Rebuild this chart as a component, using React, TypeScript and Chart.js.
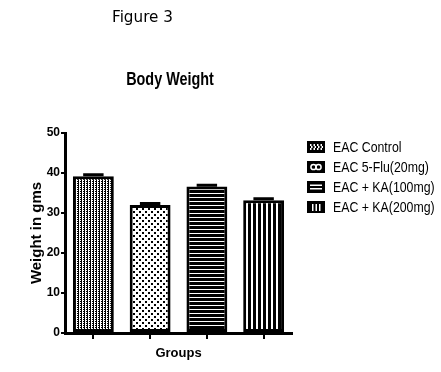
import React, { useEffect, useRef } from "react";
import { Chart, registerables } from "chart.js";

Chart.register(...registerables);

const groups = ["EAC Control", "EAC 5-Flu(20mg)", "EAC + KA(100mg)", "EAC + KA(200mg)"];
const weights = [39.2, 32.0, 36.6, 33.2];
const sem = [0.35, 0.35, 0.35, 0.35];
const yTicks = [0, 10, 20, 30, 40, 50];
const figureLabel = "Figure 3";
const chartTitle = "Body Weight";
const yTitle = "Weight in gms";
const xTitle = "Groups";

function makePattern(kind: number): CanvasPattern | string {
  const c = document.createElement("canvas");
  const ctx = c.getContext("2d")!;
  if (kind === 0) {
    c.width = 3; c.height = 2;
    ctx.fillStyle = "#000"; ctx.fillRect(0, 0, 3, 2);
    ctx.fillStyle = "#fff";
    ctx.fillRect(1, 0, 1, 2);
    ctx.fillRect(2, 0, 1, 1);
  } else if (kind === 1) {
    c.width = 6; c.height = 6;
    ctx.fillStyle = "#fff"; ctx.fillRect(0, 0, 6, 6);
    ctx.fillStyle = "#000";
    ctx.fillRect(1, 1, 2, 2);
    ctx.fillRect(4, 4, 2, 2);
  } else if (kind === 2) {
    c.width = 4; c.height = 4;
    ctx.fillStyle = "#000"; ctx.fillRect(0, 0, 4, 4);
    ctx.fillStyle = "#fff"; ctx.fillRect(0, 1, 4, 1);
  } else {
    c.width = 5; c.height = 4;
    ctx.fillStyle = "#000"; ctx.fillRect(0, 0, 5, 4);
    ctx.fillStyle = "#fff"; ctx.fillRect(1, 0, 2, 4);
  }
  const ctx2 = document.createElement("canvas").getContext("2d")!;
  return ctx2.createPattern(c, "repeat") || "#000";
}

function drawLegendIcon(ctx: CanvasRenderingContext2D, kind: number, x: number, y: number) {
  const w = 18, h = 12;
  ctx.fillStyle = "#000";
  ctx.fillRect(x, y - h / 2, w, h);
  ctx.fillStyle = "#fff";
  ctx.strokeStyle = "#fff";
  if (kind === 0) {
    for (let i = 0; i < 4; i++) {
      const px = x + 3 + i * 3.5;
      ctx.fillRect(px, y - 3, 1.5, 2);
      ctx.fillRect(px + 1, y - 1, 1.5, 2);
      ctx.fillRect(px, y + 1, 1.5, 2);
    }
  } else if (kind === 1) {
    ctx.lineWidth = 1.5;
    ctx.beginPath(); ctx.arc(x + 6.5, y, 2.6, 0, Math.PI * 2); ctx.stroke();
    ctx.beginPath(); ctx.arc(x + 11.5, y, 2.6, 0, Math.PI * 2); ctx.stroke();
  } else if (kind === 2) {
    ctx.fillRect(x + 3, y - 2.5, 12, 1.5);
    ctx.fillRect(x + 3, y + 1, 12, 1.5);
  } else {
    ctx.fillRect(x + 5, y - 3, 1.5, 7);
    ctx.fillRect(x + 8.5, y - 3, 1.5, 7);
    ctx.fillRect(x + 12, y - 3, 1.5, 7);
  }
}

function narrowText(ctx: CanvasRenderingContext2D, text: string, x: number, y: number, sx: number, align: "left" | "center") {
  ctx.save();
  ctx.translate(x, y);
  ctx.scale(sx, 1);
  ctx.textAlign = align;
  ctx.fillText(text, 0, 0);
  ctx.restore();
}

const extrasPlugin = {
  id: "extras",
  afterDatasetsDraw(chart: any) {
    const ctx = chart.ctx as CanvasRenderingContext2D;
    const meta = chart.getDatasetMeta(0);
    const yScale = chart.scales.y;
    ctx.save();
    ctx.strokeStyle = "#000";
    ctx.lineWidth = 3;
    meta.data.forEach((bar: any, i: number) => {
      const top = yScale.getPixelForValue(weights[i] + sem[i]);
      const base = yScale.getPixelForValue(weights[i]);
      const half = bar.width * 0.25;
      ctx.beginPath();
      ctx.moveTo(bar.x, base);
      ctx.lineTo(bar.x, top);
      ctx.moveTo(bar.x - half, top);
      ctx.lineTo(bar.x + half, top);
      ctx.stroke();
    });
    ctx.restore();
  },
  afterDraw(chart: any) {
    const ctx = chart.ctx as CanvasRenderingContext2D;
    ctx.save();
    ctx.fillStyle = "#000";
    ctx.textBaseline = "middle";
    ctx.font = "16px 'DejaVu Sans'";
    narrowText(ctx, figureLabel, 112, 18, 0.95, "left");
    ctx.font = "bold 18px 'Liberation Sans'";
    narrowText(ctx, chartTitle, 170, 80, 0.8, "center");
    ctx.font = "14px 'Liberation Sans'";
    groups.forEach((g, i) => {
      const y = 147 + i * 20;
      drawLegendIcon(ctx, i, 307, y);
      ctx.fillStyle = "#000";
      narrowText(ctx, g, 333, y + 1, 0.88, "left");
    });
    ctx.restore();
  },
};

export default function App() {
  const ref = useRef<HTMLCanvasElement>(null);
  useEffect(() => {
    document.body.style.margin = "0";
    const patterns = [0, 1, 2, 3].map(makePattern);
    const chart = new Chart(ref.current!, {
      type: "bar",
      data: {
        labels: groups.map(() => ""),
        datasets: [
          {
            data: weights,
            backgroundColor: patterns as any,
            borderColor: "#000",
            borderWidth: 3,
            borderSkipped: false,
            categoryPercentage: 1,
            barPercentage: 0.72,
          },
        ],
      },
      options: {
        responsive: false,
        animation: false,
        layout: { padding: { top: 133, right: 149, left: 0, bottom: 0 } },
        plugins: { legend: { display: false }, tooltip: { enabled: false }, title: { display: false } },
        scales: {
          x: {
            afterFit: (s: any) => { s.height = 39; },
            border: { display: true, width: 3, color: "#000" },
            grid: { display: true, offset: false, drawOnChartArea: false, drawTicks: true, tickLength: 6, lineWidth: 2, color: "#000" },
            ticks: { display: true },
            title: {
              display: true,
              text: xTitle,
              color: "#000",
              font: { family: "'Liberation Sans'", size: 13, weight: "bold" },
              padding: { top: 11, bottom: 11 },
            },
          },
          y: {
            min: 0,
            max: 50,
            afterFit: (s: any) => { s.width = 65; },
            afterBuildTicks: (s: any) => { s.ticks = yTicks.map((v) => ({ value: v })); },
            border: { display: true, width: 3, color: "#000" },
            grid: { display: true, drawOnChartArea: false, drawTicks: true, tickLength: 4, lineWidth: 2, color: "#000" },
            ticks: {
              color: "#000",
              padding: 1,
              font: { family: "'Liberation Sans'", size: 12, weight: "bold" },
            },
            title: {
              display: true,
              text: yTitle,
              color: "#000",
              font: { family: "'Liberation Sans'", size: 15, weight: "bold" },
              padding: { top: 28, bottom: 28 },
            },
          },
        },
      },
      plugins: [extrasPlugin],
    } as any);
    return () => chart.destroy();
  }, []);
  return (
    <div style={{ width: 441, height: 372, background: "#fff" }}>
      <canvas ref={ref} width={441} height={372} style={{ display: "block" }} />
    </div>
  );
}
